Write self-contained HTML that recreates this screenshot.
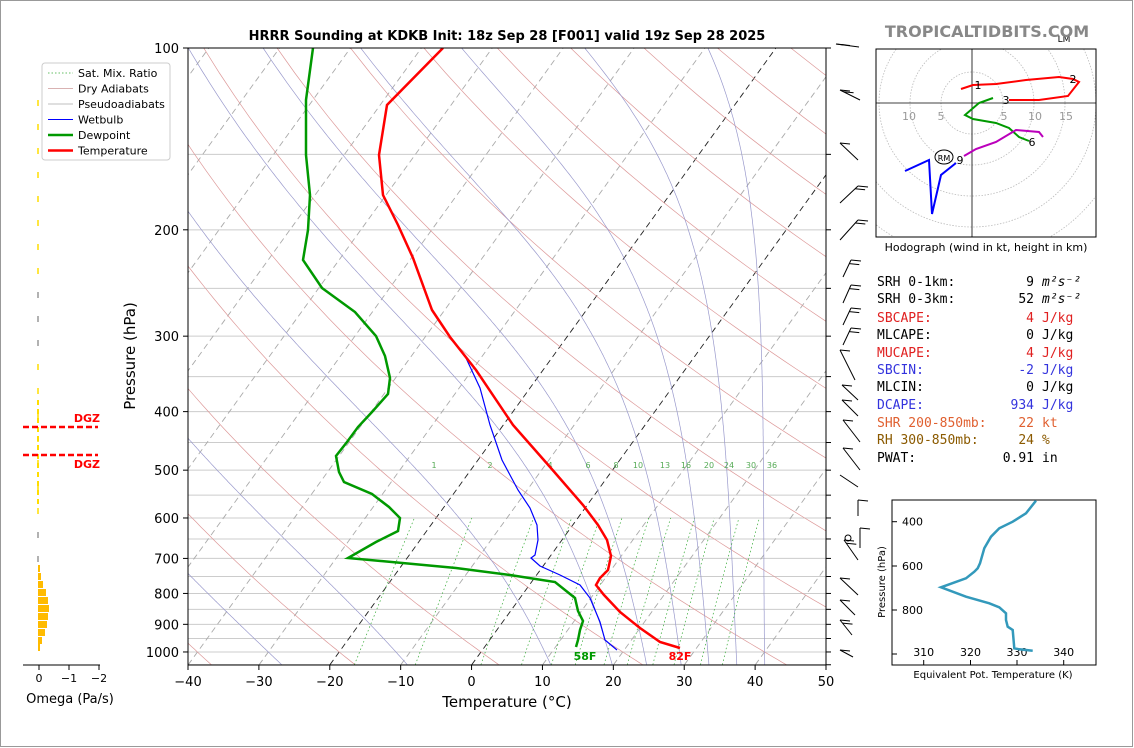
<!DOCTYPE html>
<html><head><meta charset="utf-8"><style>
html,body{margin:0;padding:0;background:#fff;}
svg{display:block;font-family:"DejaVu Sans","Liberation Sans",sans-serif;}
.mono{font-family:"DejaVu Sans Mono","Liberation Mono",monospace;font-size:13px;}
</style></head><body>
<svg id="s" width="1134" height="748" viewBox="0 0 1134 748" xmlns="http://www.w3.org/2000/svg">
<rect x="0.5" y="0.5" width="1132" height="746" fill="#fff" stroke="#999"/>
<defs><clipPath id="cp"><rect x="188" y="48" width="638" height="617"/></clipPath><clipPath id="hcp"><rect x="876" y="49" width="220" height="188"/></clipPath></defs>
<g id="bg" clip-path="url(#cp)"></g>
<g id="fg"></g>
</svg>
<script>
const NS="http://www.w3.org/2000/svg";
const bg=document.getElementById('bg'),fg=document.getElementById('fg'),S=document.getElementById('s');
function el(par,tag,a,txt){const e=document.createElementNS(NS,tag);for(const k in a)e.setAttribute(k,a[k]);if(txt!==undefined)e.textContent=txt;par.appendChild(e);return e;}
function Y(p){return 48+262.3*Math.log(p/100);}
function X(T,p){return 188+(T+40)*7.089+(665-Y(p))*0.723;}
function pl(par,pts,st){el(par,'polyline',Object.assign({points:pts.map(q=>q[0].toFixed(1)+','+q[1].toFixed(1)).join(' '),fill:'none'},st));}
for(let p=100;p<=1050;p+=50){el(bg,'line',{x1:188,x2:826,y1:Y(p),y2:Y(p),stroke:'#ccc','stroke-width':1});}
for(let T=-120;T<=50;T+=10){const c=(T==0||T==-20)?'#222':'#aaa';pl(bg,[[X(T,1050),Y(1050)],[X(T,100),Y(100)]],{stroke:c,'stroke-width':0.9,'stroke-dasharray':'6,4'});}
for(let th=-40;th<=260;th+=20){const pts=[];for(let p=1050;p>=100;p-=10){const T=(th+273.15)*Math.pow(p/1000,0.286)-273.15;pts.push([X(T,p),Y(p)]);}pl(bg,pts,{stroke:'#d99','stroke-width':0.7});}
function es(Tc){return 6.112*Math.exp(17.67*Tc/(Tc+243.5));}
function dTdp(T,p){const Tk=T+273.15,e=es(T),r=0.622*e/(p-e);return (287*Tk+2.5e6*r)/(p*(1004+2.5e6*2.5e6*r*0.622/(287*Tk*Tk)));}
[-30,-12,9,18,23,28,32,36,40].forEach(T0=>{let T=T0;const pts=[[X(T,1000),Y(1000)]];for(let p=1000;p>100;p-=2){T-=dTdp(T,p)*2;pts.push([X(T,p-2),Y(p-2)]);}
 let T2=T0;const lo=[];for(let p=1000;p<1050;p+=2){T2+=dTdp(T2,p)*2;lo.push([X(T2,p+2),Y(p+2)]);}
 pl(bg,lo.reverse().concat(pts),{stroke:'#99c','stroke-width':0.7});});
const lx={1:434,2:490,4:550,6:588,8:616,10:638,13:665,16:686,20:709,24:729,30:751,36:772};
[1,2,4,6,8,10,13,16,20,24,30,36].forEach(w=>{const pts=[];for(let p=1050;p>=600;p-=10){const e=(w/1000)*p/(0.622+w/1000),l=Math.log(e/6.112),Td=243.5*l/(17.67-l);pts.push([X(Td,p),Y(p)]);}
 pl(bg,pts,{stroke:'#3a3','stroke-width':0.7,'stroke-dasharray':'1.5,2.5'});
 el(bg,'text',{x:lx[w],y:468,'font-size':8,fill:'#5a5','text-anchor':'middle'},String(w));});
pl(bg,[[443,48],[387,105],[379,155],[383,195],[398,225],[413,258],[432,310],[450,337],[466,358],[480,388],[490,425],[502,460],[518,490],[530,508],[537,525],[538,540],[535,555],[531,558],[540,566],[560,575],[580,585],[590,598],[595,610],[600,622],[605,640],[617,650]],{stroke:'#00f','stroke-width':1.2});
pl(bg,[[313,48],[306,100],[306,155],[310,195],[308,230],[303,260],[322,288],[355,312],[376,336],[385,356],[390,378],[388,394],[372,412],[358,427],[347,442],[336,456],[339,472],[344,482],[372,494],[389,507],[400,518],[398,531],[376,542],[348,558],[456,568],[510,575],[555,582],[575,598],[578,611],[583,621],[580,630],[578,640],[576,647]],{stroke:'#090','stroke-width':2.5});
pl(bg,[[443,48],[387,105],[379,155],[383,195],[398,225],[413,258],[432,310],[450,337],[476,370],[513,425],[550,467],[583,505],[598,525],[607,540],[611,556],[608,570],[600,578],[596,585],[604,595],[620,612],[640,628],[660,642],[680,648]],{stroke:'#f00','stroke-width':2.5});
el(fg,'rect',{x:188,y:48,width:638,height:617,fill:'none',stroke:'#000','stroke-width':1});
for(let T=-40;T<=50;T+=10){const x=188+(T+40)*7.089;el(fg,'line',{x1:x,x2:x,y1:665,y2:670,stroke:'#000'});el(fg,'text',{x:x,y:686,'font-size':13,'text-anchor':'middle'},(T<0?'\u2212'+(-T):T));}
for(let p=100;p<=1000;p+=100){el(fg,'line',{x1:183,x2:188,y1:Y(p),y2:Y(p),stroke:'#000'});el(fg,'line',{x1:826,x2:831,y1:Y(p),y2:Y(p),stroke:'#000'});el(fg,'text',{x:179,y:Y(p)+5,'font-size':13,'text-anchor':'end'},p);}
for(let p=150;p<=1050;p+=100){el(fg,'line',{x1:826,x2:831,y1:Y(p),y2:Y(p),stroke:'#000'});}
el(fg,'text',{x:507,y:40,'font-size':13,'font-weight':'bold','text-anchor':'middle'},'HRRR Sounding at KDKB Init: 18z Sep 28 [F001] valid 19z Sep 28 2025');
el(fg,'text',{x:507,y:707,'font-size':15,'text-anchor':'middle'},'Temperature (°C)');
el(fg,'text',{x:135,y:356,'font-size':15,'text-anchor':'middle',transform:'rotate(-90 135 356)'},'Pressure (hPa)');
el(fg,'text',{x:585,y:660,'font-size':11,'font-weight':'bold',fill:'#090','text-anchor':'middle'},'58F');
el(fg,'text',{x:680,y:660,'font-size':11,'font-weight':'bold',fill:'#f00','text-anchor':'middle'},'82F');
el(fg,'rect',{x:42,y:63,width:128,height:97,fill:'#fff',stroke:'#ccc',rx:3});
[['Sat. Mix. Ratio','#3a3',0.8,'1.5,2'],['Dry Adiabats','#c99',0.8,''],['Pseudoadiabats','#aaa',0.8,''],['Wetbulb','#00f',1,''],['Dewpoint','#090',2.5,''],['Temperature','#f00',2.5,'']].forEach((r,i)=>{const y=73+i*15.5;el(fg,'line',{x1:48,x2:73,y1:y,y2:y,stroke:r[1],'stroke-width':r[2],'stroke-dasharray':r[3]});el(fg,'text',{x:78,y:y+4,'font-size':11},r[0]);});
el(fg,'line',{x1:23,x2:100,y1:665,y2:665,stroke:'#000'});
[[39,'0'],[69,'\u22121'],[99,'\u22122']].forEach(t=>{el(fg,'line',{x1:t[0],x2:t[0],y1:665,y2:670,stroke:'#000'});el(fg,'text',{x:t[0],y:682,'font-size':11,'text-anchor':'middle'},t[1]);});
el(fg,'text',{x:70,y:703,'font-size':13,'text-anchor':'middle'},'Omega (Pa/s)');
for(let y=100;y<565;y+=12){const c=(y>280&&y<360)||(y>510&&y<560)?'#999':'#fd0';if(y%24==4)el(fg,'line',{x1:38,x2:38,y1:y,y2:y+6,stroke:c,'stroke-width':1.5});}
for(let y=400;y<500;y+=9)el(fg,'line',{x1:38,x2:38,y1:y,y2:y+5,stroke:'#fd0','stroke-width':2});
[[565,2],[573,3],[581,5],[589,8],[597,10],[605,11],[613,10],[621,9],[629,7],[637,4],[644,2]].forEach(b=>el(fg,'rect',{x:38,y:b[0],width:b[1],height:7,fill:'#fb0'}));
el(fg,'line',{x1:23,x2:98,y1:427,y2:427,stroke:'#f00','stroke-width':2.5,'stroke-dasharray':'6,3'});
el(fg,'line',{x1:23,x2:98,y1:455,y2:455,stroke:'#f00','stroke-width':2.5,'stroke-dasharray':'6,3'});
el(fg,'text',{x:100,y:422,'font-size':11,'font-weight':'bold',fill:'#f00','text-anchor':'end'},'DGZ');
el(fg,'text',{x:100,y:468,'font-size':11,'font-weight':'bold',fill:'#f00','text-anchor':'end'},'DGZ');
const barbs=[[859,47,836,44,2],[860,100,840,90,2],[858,160,840,143,1],[840,203,858,186,2],[840,240,858,220,2],[843,277,851,260,2],[843,303,851,285,2],[843,325,851,308,2],[843,345,851,328,2],[855,380,840,350,1],[858,400,842,385,1],[858,416,842,400,1],[860,442,843,420,1],[860,470,843,448,1],[858,487,840,475,0],[858,516,858,500,1],[860,548,860,528,1],[858,560,844,540,2],[858,595,840,578,1],[855,615,840,600,1],[852,635,840,620,2],[853,657,840,650,1]];
barbs.forEach(b=>{el(fg,'line',{x1:b[0],y1:b[1],x2:b[2],y2:b[3],stroke:'#000','stroke-width':1});
 const dx=b[0]-b[2],dy=b[1]-b[3],L=Math.hypot(dx,dy),ux=dx/L,uy=dy/L;
 for(let k=0;k<b[4];k++){const sx=b[2]+ux*k*4,sy=b[3]+uy*k*4;el(fg,'line',{x1:sx,y1:sy,x2:sx+10,y2:sy+1,stroke:'#000','stroke-width':1});}});
el(fg,'circle',{cx:848,cy:538,r:3,fill:'none',stroke:'#000'});
const hg=el(fg,'g',{});
el(hg,'rect',{x:876,y:49,width:220,height:188,fill:'#fff'});
const hc=el(hg,'g',{'clip-path':'url(#hcp)'});
for(let r=1;r<=6;r++)el(hc,'circle',{cx:972,cy:103,r:r*31,fill:'none',stroke:'#bbb','stroke-dasharray':'1.5,1.5','stroke-width':0.8});
el(hc,'line',{x1:876,x2:1096,y1:103,y2:103,stroke:'#000','stroke-width':0.8});
el(hc,'line',{x1:972,x2:972,y1:49,y2:237,stroke:'#000','stroke-width':0.8});
[[909,'10'],[941,'5'],[1004,'5'],[1035,'10'],[1066,'15']].forEach(t=>el(hc,'text',{x:t[0],y:120,'font-size':11,fill:'#999','text-anchor':'middle'},t[1]));
pl(hc,[[961,89],[973,85],[996,84],[1026,80],[1059,77],[1073,79],[1079,82],[1068,96],[1039,100],[1009,100]],{stroke:'#f00','stroke-width':2});
pl(hc,[[993,98],[979,103],[965,115],[973,119],[996,123],[1009,128],[1019,137],[1029,141]],{stroke:'#090','stroke-width':2});
pl(hc,[[1043,137],[1039,132],[1016,130],[996,142],[976,149],[964,156]],{stroke:'#b0b','stroke-width':2});
pl(hc,[[956,163],[941,175],[932,214],[929,160],[905,171]],{stroke:'#00f','stroke-width':2});
[[978,89,'1'],[1073,83,'2'],[1006,104,'3'],[1032,146,'6'],[960,164,'9']].forEach(t=>el(hc,'text',{x:t[0],y:t[1],'font-size':11,'text-anchor':'middle'},t[2]));
el(hc,'ellipse',{cx:944,cy:157,rx:9,ry:7,fill:'none',stroke:'#000'});
el(hc,'text',{x:944,y:161,'font-size':8,'text-anchor':'middle'},'RM');
el(hg,'rect',{x:876,y:49,width:220,height:188,fill:'none',stroke:'#000'});
el(fg,'text',{x:1064,y:42,'font-size':9,'text-anchor':'middle'},'LM');
el(fg,'text',{x:986,y:251,'font-size':11,'text-anchor':'middle'},'Hodograph (wind in kt, height in km)');
el(fg,'text',{x:987,y:37,'font-size':16,'font-weight':'bold',fill:'#888','text-anchor':'middle'},'TROPICALTIDBITS.COM');
const rows=[['SRH 0-1km:','9','m²s⁻²','#000'],['SRH 0-3km:','52','m²s⁻²','#000'],['SBCAPE:','4','J/kg','#e02020'],['MLCAPE:','0','J/kg','#000'],['MUCAPE:','4','J/kg','#e02020'],['SBCIN:','-2','J/kg','#3333dd'],['MLCIN:','0','J/kg','#000'],['DCAPE:','934','J/kg','#3333dd'],['SHR 200-850mb:','22','kt','#e06030'],['RH 300-850mb:','24','%','#8b5a00'],['PWAT:','0.91','in','#000']];
const ys=[286,303,322,339,357,374,391,409,427,444,462];
rows.forEach((r,i)=>{el(fg,'text',{x:877,y:ys[i],fill:r[3],class:'mono'},r[0]);el(fg,'text',{x:1034,y:ys[i],fill:r[3],class:'mono','text-anchor':'end'},r[1]);
 el(fg,'text',{x:1042,y:ys[i],fill:r[3],class:'mono','font-style':i<2?'italic':'normal'},r[2]);});
el(fg,'rect',{x:892,y:500,width:204,height:165,fill:'#fff',stroke:'#000'});
[[400,521.7],[600,566],[800,610]].forEach(t=>{el(fg,'line',{x1:892,x2:897,y1:t[1],y2:t[1],stroke:'#000'});el(fg,'text',{x:902,y:t[1]+4,'font-size':11},t[0]);});
el(fg,'line',{x1:892,x2:897,y1:654,y2:654,stroke:'#000'});
[[923.7,'310'],[970.5,'320'],[1017,'330'],[1063.7,'340']].forEach(t=>{el(fg,'line',{x1:t[0],x2:t[0],y1:665,y2:660,stroke:'#000'});el(fg,'text',{x:t[0],y:656,'font-size':11,'text-anchor':'middle'},t[1]);});
el(fg,'text',{x:885,y:582,'font-size':10,'text-anchor':'middle',transform:'rotate(-90 885 582)'},'Pressure (hPa)');
el(fg,'text',{x:993,y:678,'font-size':10,'text-anchor':'middle'},'Equivalent Pot. Temperature (K)');
pl(fg,[[630,302],[600,340],[560,365],[520,385],[495,410],[475,445],[462,490],[455,505],[445,515],[420,535],[345,562],[420,590],[490,610],[520,622],[540,640],[540,660],[545,680],[560,690],[565,745],[580,748],[620,752]].map(q=>[826+q[0]/3,400+q[1]/3]),{stroke:'#3399bb','stroke-width':2.5});
</script>
</body></html>
